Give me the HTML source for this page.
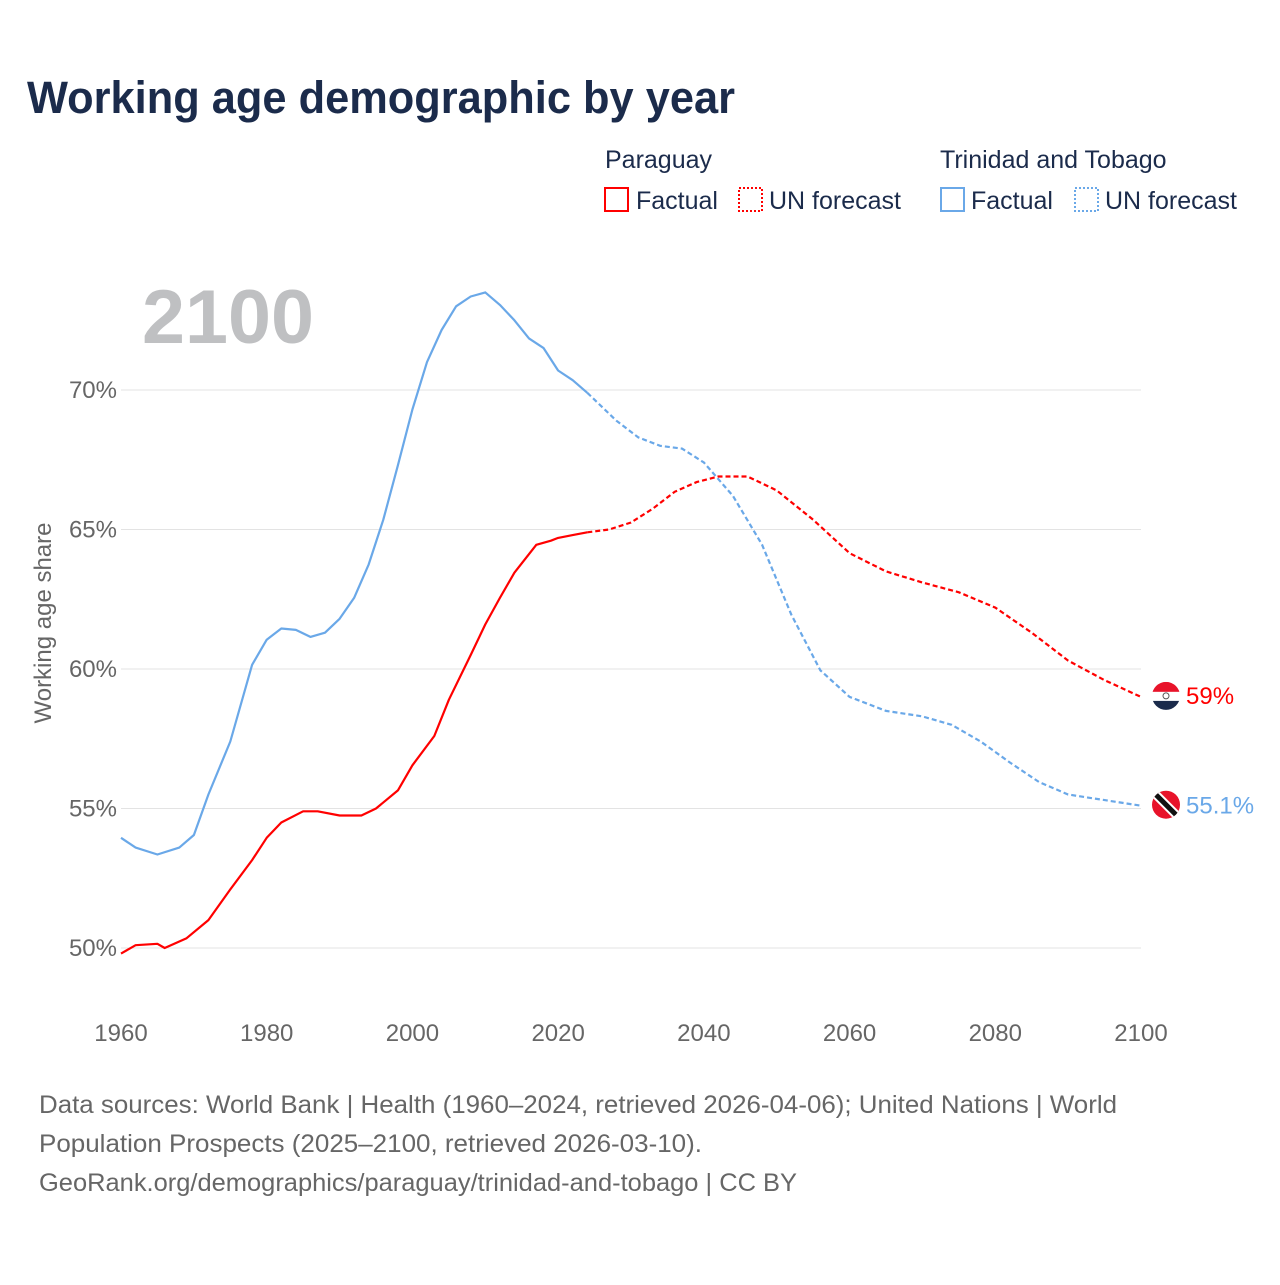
<!DOCTYPE html>
<html><head><meta charset="utf-8"><style>
body{margin:0;background:#fff;font-family:"Liberation Sans",sans-serif;}
</style></head><body>
<svg width="1280" height="1280" viewBox="0 0 1280 1280" xmlns="http://www.w3.org/2000/svg">
<text x="27" y="113" font-size="45" font-weight="bold" fill="#1b2b4b" textLength="708" lengthAdjust="spacingAndGlyphs">Working age demographic by year</text>
<g font-size="25" fill="#1b2b4b">
<text x="605" y="168">Paraguay</text>
<rect x="605" y="188" width="23" height="23" fill="none" stroke="#f00" stroke-width="2"/>
<text x="636" y="209">Factual</text>
<rect x="739" y="188" width="23" height="23" fill="none" stroke="#f00" stroke-width="2" stroke-dasharray="2,2"/>
<text x="769" y="209">UN forecast</text>
<text x="940" y="168">Trinidad and Tobago</text>
<rect x="941" y="188" width="23" height="23" fill="none" stroke="#6aa8e8" stroke-width="2"/>
<text x="971" y="209">Factual</text>
<rect x="1075" y="188" width="23" height="23" fill="none" stroke="#6aa8e8" stroke-width="2" stroke-dasharray="2,2"/>
<text x="1105" y="209">UN forecast</text>
</g>
<text x="142" y="343" font-size="76" font-weight="bold" fill="#bfc0c2" textLength="172" lengthAdjust="spacingAndGlyphs">2100</text>
<text transform="translate(51,623) rotate(-90)" text-anchor="middle" font-size="24" fill="#666">Working age share</text>
<g id="grid"></g><g id="plot"></g>
<g font-size="25" fill="#666">
<text x="39" y="1113" textLength="1078" lengthAdjust="spacingAndGlyphs">Data sources: World Bank | Health (1960–2024, retrieved 2026-04-06); United Nations | World</text>
<text x="39" y="1152" textLength="663" lengthAdjust="spacingAndGlyphs">Population Prospects (2025–2100, retrieved 2026-03-10).</text>
<text x="39" y="1191" textLength="758" lengthAdjust="spacingAndGlyphs">GeoRank.org/demographics/paraguay/trinidad-and-tobago | CC BY</text>
</g>
</svg>
<script>
const yTicks=[50,55,60,65,70];
const xTicks=[1960,1980,2000,2020,2040,2060,2080,2100];
const pyYears=[1960,1962,1965,1966,1969,1972,1975,1978,1980,1982,1985,1987,1990,1993,1995,1998,2000,2003,2005,2008,2010,2012,2014,2017,2019,2020,2022,2024,2027,2030,2033,2036,2039,2042,2046,2050,2055,2060,2065,2070,2075,2080,2085,2090,2095,2100];
const pyVals=[49.8,50.1,50.15,50.0,50.35,51.0,52.1,53.15,53.95,54.5,54.9,54.9,54.75,54.75,55.0,55.65,56.55,57.6,58.9,60.5,61.6,62.55,63.45,64.45,64.6,64.7,64.8,64.9,65.0,65.25,65.75,66.35,66.7,66.9,66.9,66.4,65.35,64.15,63.5,63.1,62.75,62.2,61.3,60.3,59.6,59.0];
const ttYears=[1960,1962,1965,1968,1970,1972,1975,1978,1980,1982,1984,1986,1988,1990,1992,1994,1996,1998,2000,2002,2004,2006,2008,2010,2012,2014,2016,2018,2020,2022,2024,2028,2031,2034,2037,2040,2044,2048,2052,2056,2060,2065,2070,2074,2078,2082,2086,2090,2095,2100];
const ttVals=[53.95,53.6,53.35,53.6,54.05,55.5,57.4,60.15,61.05,61.45,61.4,61.15,61.3,61.8,62.55,63.75,65.35,67.3,69.3,71.0,72.15,73.0,73.35,73.5,73.05,72.5,71.85,71.5,70.7,70.35,69.9,68.9,68.3,68.0,67.9,67.4,66.2,64.45,61.95,59.95,59.0,58.5,58.3,58.0,57.4,56.65,55.95,55.5,55.3,55.1];
const lastFactual=2024;
const X=y=>121+(y-1960)*(1020/140);
const Y=v=>948-(v-50)*(558/20);
const NS="http://www.w3.org/2000/svg";
const grid=document.getElementById('grid'),plot=document.getElementById('plot');
function mk(t,a,p){const e=document.createElementNS(NS,t);for(const k in a)e.setAttribute(k,a[k]);p.appendChild(e);return e;}
yTicks.forEach(v=>{
 const l=mk('line',{x1:121,x2:1141,y1:Y(v),y2:Y(v),stroke:'#e3e3e3','stroke-width':1},grid);
 
 
 const t=mk('text',{x:117,y:Y(v)+8,'text-anchor':'end','font-size':24,fill:'#666'},grid);t.textContent=v+'%';
 
 
});
xTicks.forEach(v=>{
 const t=mk('text',{x:X(v),y:1041,'text-anchor':'middle','font-size':24,fill:'#666'},grid);t.textContent=v;
 
 
});
function draw(years,vals,color,name){
 const f=[],d=[];
 years.forEach((y,i)=>{const p=X(y).toFixed(1)+','+Y(vals[i]).toFixed(1);if(y<=lastFactual)f.push(p);if(y>=lastFactual)d.push(p);});
 const a=mk('polyline',{points:f.join(' '),fill:'none',stroke:color,'stroke-width':2.2,'stroke-linejoin':'round'},plot);
 
 
 const b=mk('polyline',{points:d.join(' '),fill:'none',stroke:color,'stroke-width':2.2,'stroke-dasharray':'5,3'},plot);
 
 
}
draw(ttYears,ttVals,'#6aa8e8','trinidad');
draw(pyYears,pyVals,'#f00','paraguay');
const pyEnd=pyVals[pyVals.length-1],ttEnd=ttVals[ttVals.length-1];
const g1=mk('g',{},plot);


const cy1=Y(pyEnd)-1;
mk('clipPath',{id:'c1'},g1).appendChild(document.createElementNS(NS,'circle')).setAttribute('r',14);
document.querySelector('#c1 circle').setAttribute('cx',1166);document.querySelector('#c1 circle').setAttribute('cy',cy1);
mk('rect',{x:1152,y:cy1-14,width:28,height:10,fill:'#e8132a','clip-path':'url(#c1)'},g1);
mk('rect',{x:1152,y:cy1-4,width:28,height:9,fill:'#fff','clip-path':'url(#c1)'},g1);
mk('rect',{x:1152,y:cy1+5,width:28,height:10,fill:'#1b2b4b','clip-path':'url(#c1)'},g1);
mk('circle',{cx:1166,cy:cy1,r:3,fill:'none',stroke:'#555','stroke-width':1},g1);
const l1=mk('text',{x:1186,y:Y(pyEnd)+7,'font-size':24,fill:'#f00'},plot);l1.textContent=Math.round(pyEnd)+'%';


const g2=mk('g',{},plot);


const cy2=Y(ttEnd)-1;
mk('clipPath',{id:'c2'},g2).appendChild(document.createElementNS(NS,'circle')).setAttribute('r',14);
document.querySelector('#c2 circle').setAttribute('cx',1166);document.querySelector('#c2 circle').setAttribute('cy',cy2);
mk('circle',{cx:1166,cy:cy2,r:14,fill:'#e8132a'},g2);
mk('line',{x1:1154,y1:cy2-12,x2:1178,y2:cy2+12,stroke:'#fff','stroke-width':9,'clip-path':'url(#c2)'},g2);
mk('line',{x1:1154,y1:cy2-12,x2:1178,y2:cy2+12,stroke:'#111','stroke-width':5,'clip-path':'url(#c2)'},g2);
const l2=mk('text',{x:1186,y:Y(ttEnd)+8,'font-size':24,fill:'#6aa8e8'},plot);l2.textContent=ttEnd.toFixed(1)+'%';


</script>
</body></html>
